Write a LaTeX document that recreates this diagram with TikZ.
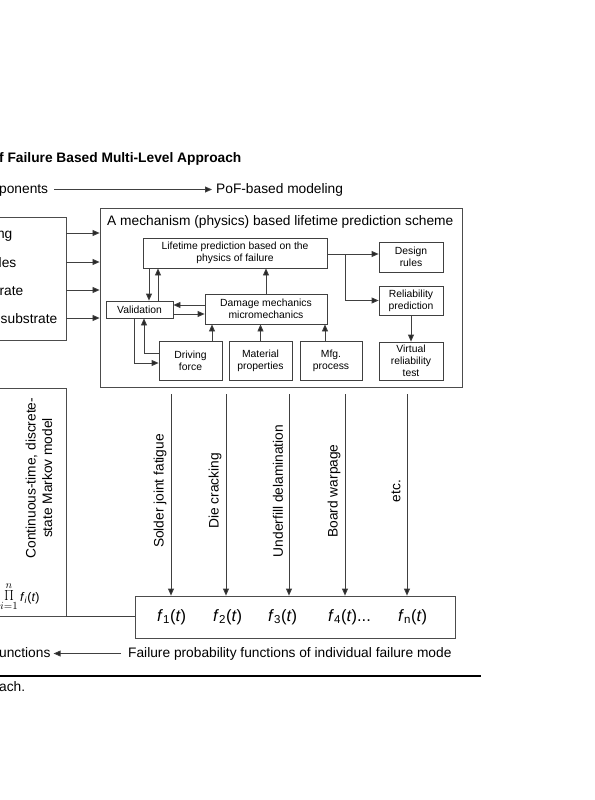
\documentclass[tikz,border=0pt]{standalone}
\usepackage{fontspec}
\setmainfont{Liberation Sans}
\usetikzlibrary{arrows.meta,calc}
\begin{document}
\begin{tikzpicture}[x=1bp,y=-1bp,
  ln/.style={draw=black!75, line width=0.8bp},
  arr/.style={ln, -{Triangle[length=7bp,width=6bp,fill=black!85]}},
  bx/.style={draw=black!75, line width=0.8bp, inner sep=0pt, align=center,
    font=\fontsize{10.4}{12.3}\selectfont},
  frame/.style={draw=black!70, line width=0.8bp, inner sep=0pt},
  big/.style={font=\fontsize{13.8}{16.5}\selectfont, inner sep=0pt},
  lbl/.style={big, text height=10bp, text depth=3bp},
  vl/.style={big, rotate=90},
  ff/.style={font=\fontsize{16.5}{18}\selectfont, inner sep=0pt, anchor=west},
]
\useasboundingbox (0,0) rectangle (595,800);

% title
\node[big, font=\fontsize{13.8}{16.5}\selectfont\bfseries, anchor=base west] (title) at (-1,162) {f Failure Based Multi-Level Approach};

% top arrow line
\node[lbl, anchor=base west] (comp) at (-1,193) {ponents};
\node[lbl, anchor=base west] (pof) at (216,193) {PoF-based modeling};
\draw[arr, shorten <=6bp, shorten >=4bp] (comp.east) -- (pof.west);

% upper left box
\node[frame, minimum width=72bp, minimum height=123bp] (lb1) at (30,278.5) {};
\node[big, anchor=base east] (t1) at (12.5,238) {ng};
\node[big, anchor=base east] (t2) at (16.5,267) {les};
\node[big, anchor=base east] (t3) at (23.5,295) {rate};
\node[big, anchor=base east] (t4) at (57.5,323) {substrate};

% big box
\node[frame, minimum width=362bp, minimum height=179bp] (big) at (281,297.5) {};
\node[big, anchor=base west] (bigt) at (107,225.5) {A mechanism (physics) based lifetime prediction scheme};

\foreach \yy in {233,262,290,318}{
  \draw[arr] (lb1.east |- 0,\yy) -- (big.west |- 0,\yy);
}

% inner boxes
\node[bx, minimum width=184bp, minimum height=30bp] (lt) at (235,253) {Lifetime prediction based on the\\physics of failure};
\node[bx, minimum width=64bp, minimum height=30bp] (dr) at (411,257) {Design\\rules};
\node[bx, minimum width=64bp, minimum height=29bp] (rp) at (411,300.5) {Reliability\\prediction};
\node[bx, minimum width=64bp, minimum height=38bp] (vt) at (411,361) {Virtual\\reliability\\test};
\node[bx, minimum width=67bp, minimum height=17bp] (val) at (139.5,309.5) {Validation};
\node[bx, minimum width=122bp, minimum height=30bp] (dm) at (266,309) {Damage mechanics\\micromechanics};
\node[bx, minimum width=63bp, minimum height=39bp] (df) at (190.5,361) {Driving\\force};
\node[bx, minimum width=63bp, minimum height=39bp] (mp) at (260.5,361) {Material\\properties};
\node[bx, minimum width=62bp, minimum height=39bp] (mf) at (331,361) {Mfg.\\process};

% inner connectors
\draw[arr] (lt.south -| 149,0) -- (val.north -| 149,0);
\draw[arr] (val.north -| 158,0) -- (lt.south -| 158,0);
\draw[arr] (dm.north -| 266,0) -- (lt.south -| 266,0);
\draw[arr] (dm.west |- 0,305) -- (val.east |- 0,305);
\draw[arr] (val.east |- 0,314) -- (dm.west |- 0,314);
\draw[arr] (df.north -| 212,0) -- (dm.south -| 212,0);
\draw[arr] (mp.north) -- (dm.south -| mp.north);
\draw[arr] (mf.north -| 325,0) -- (dm.south -| 325,0);
\draw[arr] (val.south -| 134,0) -- (134,363) -- (df.west |- 0,363);
\draw[arr] (df.west |- 0,353) -- (144,353) -- (val.south -| 144,0);
\draw[arr] (lt.east |- 0,254) -- (dr.west |- 0,254);
\draw[arr] (345,254) -- (345,300.5) -- (rp.west);
\draw[arr] (rp.south) -- (vt.north);

% lower left box
\node[frame, minimum width=72bp, minimum height=228bp] (lb2) at (30,502) {};
\node[vl, align=center] (mk) at (39,478) {Continuous-time, discrete-\\state Markov model};
\node[inner sep=0pt, font=\fontsize{15}{16}\selectfont] (prod) at (9,597) {$\prod\limits_{i=1}^{n}$};
\node[inner sep=0pt, anchor=west, font=\fontsize{12.5}{14}\selectfont] (fi) at (20,598) {\textit{f}\textsubscript{\textit{i}}(\textit{t})};

% f box
\node[frame, minimum width=320bp, minimum height=42bp] (fb) at (295,617) {};
\draw[ln] (lb2.south east) -- (fb.west |- lb2.south east);

\node[ff] (f1) at (157,617) {\textit{f}\textsubscript{1}(\textit{t})};
\node[ff] (f2) at (213,617) {\textit{f}\textsubscript{2}(\textit{t})};
\node[ff] (f3) at (268,617) {\textit{f}\textsubscript{3}(\textit{t})};
\node[ff] (f4) at (328,617) {\textit{f}\textsubscript{4}(\textit{t})...};
\node[ff] (fn) at (398,617) {\textit{f}\textsubscript{n}(\textit{t})};

% failure mode lines
\foreach \xx/\nm/\tx in {171/a/Solder joint fatigue,226/b/Die cracking,289/c/Underfill delamination,345/d/Board warpage,407/e/etc.}{
  \coordinate (s\nm) at (\xx,394);
  \draw[arr] (s\nm) -- (fb.north -| s\nm);
  \node[vl] (l\nm) at (\xx-11,491) {\tx};
}

% bottom row
\node[lbl, anchor=base west] (un) at (-1,657) {unctions};
\node[lbl, anchor=base west] (fp) at (128,657) {Failure probability functions of individual failure mode};
\draw[arr, shorten <=7bp, shorten >=3bp] (fp.west) -- (un.east);

\draw[line width=1.5bp] (0,676) -- (481,676);
\node[big, anchor=base west] (ach) at (-1,691) {ach.};
\end{tikzpicture}
\end{document}
